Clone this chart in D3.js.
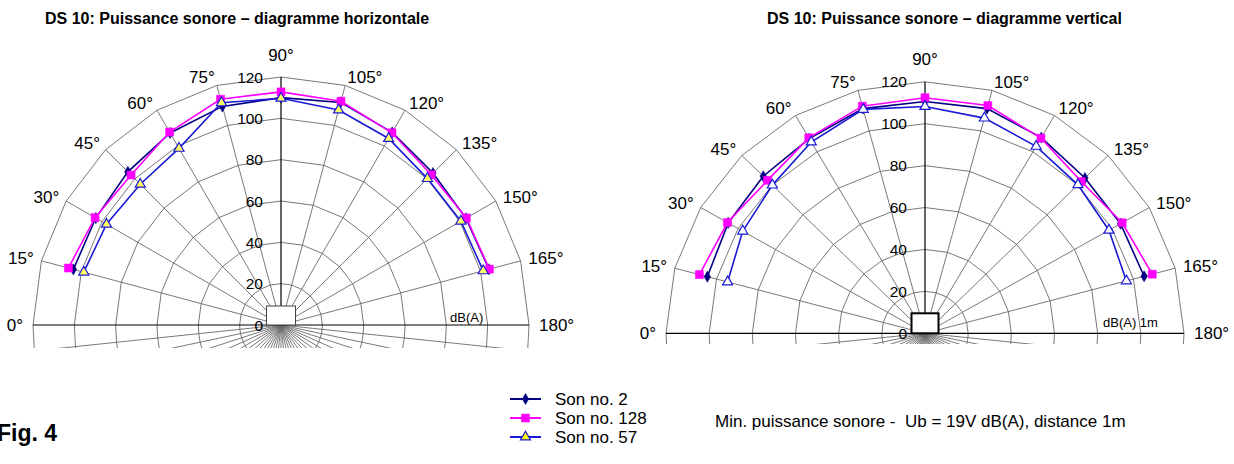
<!DOCTYPE html>
<html><head><meta charset="utf-8">
<script src="https://cdnjs.cloudflare.com/ajax/libs/d3/7.8.5/d3.min.js"></script>
<style>
html,body{margin:0;padding:0;background:#fff;}
svg{display:block;}
text{font-family:Arial,"Liberation Sans",sans-serif;fill:#000;}
</style>
</head><body>
<svg id="chart" width="1234" height="464"></svg>
<script>
// ---------- data ----------
const angles = [15, 30, 45, 60, 75, 90, 105, 120, 135, 150, 165];
const angleLabels = [0, 15, 30, 45, 60, 75, 90, 105, 120, 135, 150, 165, 180];
const ringTicks = [0, 20, 40, 60, 80, 100, 120];
const seriesNames = ["Son no. 2", "Son no. 128", "Son no. 57"];

// horizontal diagram
const son2H   = [104.0, 103.5, 104.8, 107.3, 109.5, 110.0, 111.5, 107.6, 104.0, 103.3, 104.2];
const son128H = [106.5, 103.9, 102.6, 107.8, 113.1, 112.8, 112.1, 107.4, 102.8, 103.6, 104.4];
const son57H  = [ 98.8,  97.5,  96.3,  98.7, 111.3, 109.7, 107.7, 104.2, 100.2, 100.5, 101.3];

// vertical diagram
const son2V   = [104.4, 105.3, 106.0, 107.3, 111.0, 110.6, 111.0, 107.8, 104.8, 104.6, 105.1];
const son128V = [108.2, 105.7, 103.2, 107.7, 112.2, 112.4, 112.5, 107.5, 102.4, 105.5, 109.0];
const son57V  = [ 94.7,  97.5, 100.0, 105.4, 110.6, 108.2, 106.3, 103.0, 100.2,  98.4,  96.6];

const titleH = "DS 10: Puissance sonore \u2013 diagramme horizontale";
const titleV = "DS 10: Puissance sonore \u2013 diagramme vertical";
const noteText = "Min. puissance sonore -  Ub = 19V dB(A), distance 1m";

// ---------- styles ----------
const seriesStyles = [
  {color: "#000080", sym: d3.symbolDiamond, size: 36, fill: "#000080"},
  {color: "#ff00ff", sym: d3.symbolSquare, size: 64, fill: "#ff00ff"},
  {color: "#1a1ad6", sym: d3.symbolTriangle, size: 44, fill: "#ffff66"}
];

const svg = d3.select("#chart");

function drawPanel(cfg, seriesData, id) {
  const g = svg.append("g");
  const rsX = d3.scaleLinear().domain([0, 120]).range([0, cfg.rx]);
  const rsY = d3.scaleLinear().domain([0, 120]).range([0, cfg.ry]);
  const rad = a => a * Math.PI / 180;
  const pt = (a, v) => [cfg.cx - rsX(v) * Math.cos(rad(a)), cfg.cy - rsY(v) * Math.sin(rad(a))];

  svg.append("clipPath").attr("id", id).append("rect")
    .attr("x", cfg.cx - cfg.rx - 60).attr("y", 30)
    .attr("width", 2 * cfg.rx + 120).attr("height", cfg.clipBottom - 30);
  const gg = g.append("g").attr("clip-path", `url(#${id})`);

  const upper = d3.range(0, 181, 15);
  const lower = d3.range(186, 360, 6);
  const ringAngles = upper.concat(lower);
  const line = d3.line();

  ringTicks.filter(v => v > 0).forEach(v => {
    gg.append("path")
      .attr("d", line(ringAngles.map(a => pt(a, v))) + "Z")
      .attr("fill", "none").attr("stroke", "#6a6a6a").attr("stroke-width", 0.9);
  });
  ringAngles.forEach(a => {
    if (a === 0 || a === 180 || a === 90) return;
    const p = pt(a, 120);
    gg.append("line").attr("x1", cfg.cx).attr("y1", cfg.cy).attr("x2", p[0]).attr("y2", p[1])
      .attr("stroke", "#6a6a6a").attr("stroke-width", 0.9);
  });
  const p0 = pt(0, 120), p180 = pt(180, 120), p90 = pt(90, 120);
  gg.append("line").attr("x1", p0[0]).attr("y1", p0[1]).attr("x2", p180[0]).attr("y2", p180[1])
    .attr("stroke", "#000").attr("stroke-width", 1.2);
  gg.append("line").attr("x1", cfg.cx).attr("y1", cfg.cy).attr("x2", p90[0]).attr("y2", p90[1])
    .attr("stroke", "#000").attr("stroke-width", 1.2);

  g.append("rect").attr("x", cfg.cx - cfg.boxW / 2).attr("y", cfg.cy - cfg.boxH)
    .attr("width", cfg.boxW).attr("height", cfg.boxH)
    .attr("fill", "#fff").attr("stroke", cfg.boxStroke).attr("stroke-width", cfg.boxSW);

  ringTicks.forEach(v => {
    g.append("text").attr("x", cfg.cx - 18).attr("y", pt(90, v)[1])
      .attr("text-anchor", "end").attr("dominant-baseline", "central")
      .attr("font-size", 15.5).text(v);
  });

  angleLabels.forEach(a => {
    let x, y, anchor;
    if (a === 90) { x = cfg.cx; y = cfg.cy - cfg.ry - 22; anchor = "middle"; }
    else {
      const off = (a === 0 || a === 180) ? 10 : 8;
      x = cfg.cx - (cfg.rx + off) * Math.cos(rad(a));
      y = cfg.cy - (cfg.ry + off) * Math.sin(rad(a));
      anchor = a < 90 ? "end" : "start";
    }
    g.append("text").attr("x", x).attr("y", y).attr("text-anchor", anchor)
      .attr("dominant-baseline", "central").attr("font-size", 17).text(a + "\u00b0");
  });

  g.append("text").attr("x", cfg.unitX).attr("y", cfg.unitY)
    .attr("dominant-baseline", "central").attr("font-size", 13)
    .style("white-space", "pre").text(cfg.unit);

  seriesData.forEach((vals, i) => {
    const st = seriesStyles[i];
    const pts = angles.map((a, k) => pt(a, vals[k]));
    g.append("path").attr("d", line(pts)).attr("fill", "none")
      .attr("stroke", st.color).attr("stroke-width", 1.6);
    g.selectAll(null).data(pts).enter().append("path")
      .attr("transform", d => `translate(${d[0]},${d[1]})`)
      .attr("d", d3.symbol().type(st.sym).size(st.size))
      .attr("fill", i === 2 ? cfg.triFill : st.fill)
      .attr("stroke", st.color).attr("stroke-width", i === 2 ? 1.2 : 0.5);
  });

  svg.append("text").attr("x", cfg.titleX).attr("y", 24)
    .attr("font-size", 16).attr("font-weight", "bold").text(cfg.title);
}

drawPanel({cx: 281, cy: 325, rx: 248, ry: 248, clipBottom: 348, title: titleH, titleX: 45,
  unit: "dB(A)", unitX: 450, unitY: 317.5, boxW: 29, boxH: 19, boxStroke: "#444", boxSW: 1,
  triFill: "#ffff66"}, [son2H, son128H, son57H], "clipL");

drawPanel({cx: 925, cy: 333.3, rx: 259, ry: 251.5, clipBottom: 344, title: titleV, titleX: 767,
  unit: "dB(A) 1m", unitX: 1103, unitY: 322, boxW: 27, boxH: 20, boxStroke: "#000", boxSW: 2,
  triFill: "#ffffff"}, [son2V, son128V, son57V], "clipR");

svg.append("text").attr("x", -3).attr("y", 441).attr("font-size", 23)
  .attr("font-weight", "bold").text("Fig. 4");

const legendY = [399, 418, 437];
seriesNames.forEach((n, i) => {
  const st = seriesStyles[i];
  const y = legendY[i];
  svg.append("line").attr("x1", 510).attr("x2", 541).attr("y1", y).attr("y2", y)
    .attr("stroke", st.color).attr("stroke-width", 2);
  svg.append("path").attr("transform", `translate(525.5,${y})`)
    .attr("d", d3.symbol().type(st.sym).size(st.size))
    .attr("fill", i === 2 ? "#ffff00" : st.fill).attr("stroke", st.color)
    .attr("stroke-width", i === 2 ? 1.2 : 0.5);
  svg.append("text").attr("x", 555).attr("y", y).attr("dominant-baseline", "central")
    .attr("font-size", 17).text(n);
});

svg.append("text").attr("x", 715).attr("y", 421).attr("dominant-baseline", "central")
  .attr("font-size", 17).style("white-space", "pre").text(noteText);
</script>
</body></html>
